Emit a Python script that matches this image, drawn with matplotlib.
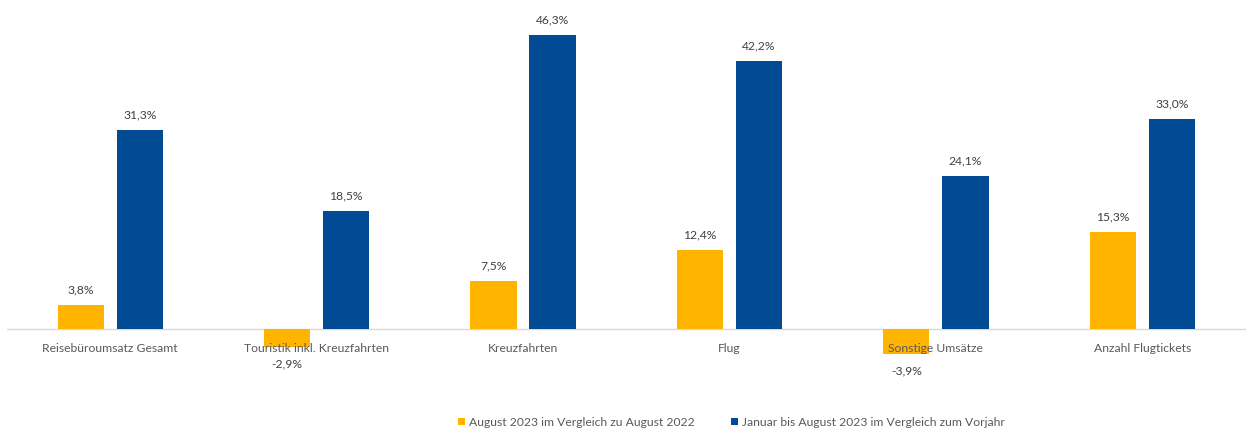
import matplotlib.pyplot as plt
import numpy as np

categories = ['Reisebüroumsatz Gesamt', 'Touristik inkl. Kreuzfahrten', 'Kreuzfahrten',
              'Flug', 'Sonstige Umsätze', 'Anzahl Flugtickets']
august = [3.8, -2.9, 7.5, 12.4, -3.9, 15.3]
jan_aug = [31.3, 18.5, 46.3, 42.2, 24.1, 33.0]
series_names = ['August 2023 im Vergleich zu August 2022',
                'Januar bis August 2023 im Vergleich zum Vorjahr']

orange = '#FFB400'
blue = '#004B93'
grey = '#595959'

plt.rcParams['font.family'] = ['Lato', 'DejaVu Sans']

fig = plt.figure(figsize=(12.46, 4.3), dpi=100)
ax = fig.add_axes([0.0056, 0.087, 0.994, 0.887])

x = np.arange(len(categories))
w = 0.224
gap = 0.062
b1 = ax.bar(x - (w + gap) / 2, august, w, color=orange, label=series_names[0])
b2 = ax.bar(x + (w + gap) / 2, jan_aug, w, color=blue, label=series_names[1])

def fmt(v):
    return f'{v:.1f}%'.replace('.', ',')

for bars, vals in [(b1, august), (b2, jan_aug)]:
    for bar, v in zip(bars, vals):
        cx = bar.get_x() + bar.get_width() / 2
        if v >= 0:
            ax.annotate(fmt(v), (cx, v), xytext=(0, 7), textcoords='offset points',
                        ha='center', va='bottom', fontsize=8.7, color='#404040')
        else:
            ax.annotate(fmt(v), (cx, v), xytext=(0, -8), textcoords='offset points',
                        ha='center', va='top', fontsize=8.7, color='#404040')

# category labels sit just under the zero line
for xi, name in zip(x, categories):
    ax.annotate(name, (xi, 0), xytext=(0, -13.7), textcoords='offset points',
                ha='center', va='center', fontsize=8.7, color=grey)

ax.set_xlim(-0.5, len(categories) - 0.5)
ax.set_ylim(-10, 50)
ax.axhline(0, color='#D9D9D9', lw=1, zorder=0)
for s in ax.spines.values():
    s.set_visible(False)
ax.set_yticks([])
ax.set_xticks([])

leg = fig.legend(loc='lower center', bbox_to_anchor=(0.587, -0.02), ncol=2, frameon=False,
                 fontsize=8.7, handlelength=0.6, handleheight=0.6, handletextpad=0.3,
                 columnspacing=3.0)
for t in leg.get_texts():
    t.set_color(grey)

fig.savefig('out.png', dpi=100)
